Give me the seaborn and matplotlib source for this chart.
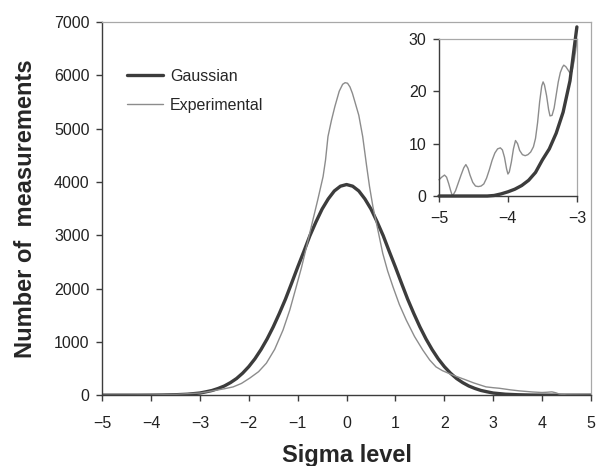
import numpy as np
import pandas as pd
import matplotlib
matplotlib.use("Agg")
import matplotlib.pyplot as plt
import seaborn as sns

## main panel: gaussian fit
gauss_x = [-5, -4.75, -4.5, -4.25, -4, -3.75, -3.5, -3.25, -3, -2.875, -2.75, -2.625,
           -2.5, -2.375, -2.25, -2.125, -2, -1.875, -1.75, -1.625, -1.5, -1.375,
           -1.25, -1.125, -1, -0.875, -0.75, -0.625, -0.5, -0.375, -0.25, -0.125,
           0, 0.125, 0.25, 0.375, 0.5, 0.625, 0.75, 0.875, 1, 1.125, 1.25, 1.375,
           1.5, 1.625, 1.75, 1.875, 2, 2.125, 2.25, 2.375, 2.5, 2.625, 2.75,
           2.875, 3, 3.25, 3.5, 3.75, 4, 4.25, 4.5, 4.75, 5]
gauss_y = [0, 0, 0, 0, 1, 3, 8, 18, 40, 63, 88, 126,
           172, 235, 312, 413, 535, 681, 855, 1054, 1280, 1532,
           1800, 2097, 2400, 2691, 2990, 3251, 3490, 3680, 3830, 3919,
           3950, 3919, 3830, 3680, 3490, 3251, 2990, 2691, 2400, 2097, 1800, 1532,
           1280, 1054, 855, 681, 535, 413, 312, 235, 172, 126, 88,
           63, 40, 18, 8, 3, 1, 0, 0, 0, 0]

## main panel: experimental histogram
exp_x = [-5, -4.5, -4, -3.5, -3, -2.8, -2.66, -2.5, -2.32, -2.15, -1.98, -1.8,
         -1.64, -1.47, -1.3, -1.16, -1.03, -0.92, -0.82, -0.69, -0.59, -0.48,
         -0.43, -0.38, -0.31, -0.24, -0.15, -0.08, -0.03, 0.02, 0.07, 0.12,
         0.16, 0.25, 0.33, 0.41, 0.47, 0.54, 0.64, 0.74, 0.84, 0.95, 1.08,
         1.22, 1.39, 1.56, 1.7, 1.83, 1.96, 2.1, 2.25, 2.4, 2.6, 2.85, 3.0,
         3.12, 3.35, 3.53, 3.8, 4.0, 4.1, 4.2, 4.28, 4.35, 4.5, 5]
exp_y = [0, 0, 3, 15, 40, 70, 94, 120, 155, 220, 320, 440,
         600, 860, 1220, 1600, 2030, 2400, 2780, 3280, 3660, 4100,
         4410, 4850, 5150, 5410, 5700, 5830, 5860, 5850, 5780, 5660,
         5535, 5250, 4850, 4300, 3910, 3530, 3100, 2660, 2330, 2030, 1700,
         1410, 1100, 845, 660, 530, 460, 405, 350, 300, 230, 156, 140,
         130, 100, 81, 60, 50, 55, 62, 45, 20, 5, 0]

## inset: left tail, -5 .. -3 sigma
ins_gx = [-5, -4.6, -4.3, -4.2, -4.1, -4.0, -3.9, -3.8, -3.7, -3.6, -3.5, -3.4,
          -3.3, -3.2, -3.1, -3.0]
ins_gy = [0, 0, 0, 0.1, 0.4, 0.8, 1.3, 2.0, 3.0, 4.5, 6.9, 9.0,
          12.0, 16.0, 22.0, 32.3]
ins_ex = [-5, -4.96, -4.92, -4.89, -4.86, -4.83, -4.81, -4.79, -4.76, -4.72, -4.68,
          -4.64, -4.61, -4.58, -4.55, -4.51, -4.47, -4.43, -4.39, -4.35, -4.31,
          -4.27, -4.23, -4.19, -4.15, -4.11, -4.08, -4.05, -4.02, -4.0, -3.98,
          -3.95, -3.92, -3.89, -3.86, -3.83, -3.79, -3.75, -3.71, -3.67, -3.63,
          -3.6, -3.57, -3.54, -3.51, -3.49, -3.47, -3.44, -3.41, -3.39, -3.36,
          -3.33, -3.3, -3.27, -3.24, -3.21, -3.19, -3.16, -3.13, -3.1, -3.07,
          -3.04, -3.01, -3.0]
ins_ey = [3.1, 3.6, 4.0, 3.6, 2.4, 1.0, 0.2, 0.3, 1.0, 2.5, 4.0,
          5.4, 6.0, 5.3, 4.0, 2.6, 1.9, 1.8, 1.9, 2.3, 3.4,
          5.0, 6.8, 8.2, 9.0, 9.2, 8.8, 7.4, 5.2, 4.2, 4.6,
          6.5, 9.0, 10.6, 10.0, 8.7, 7.9, 7.7, 7.9, 8.4, 9.4,
          11.0, 14.0, 18.0, 21.0, 21.8, 21.2, 19.2, 16.5, 15.3, 15.4,
          16.8, 19.3, 21.8, 23.6, 24.6, 25.0, 24.7, 24.1, 23.5, 23.8,
          25.8, 28.5, 30.0]

dark = "#3c3c3c"
light = "#8c8c8c"
frame = "#a8a8a8"

sns.set_style("ticks")
plt.rcParams["font.family"] = ["Liberation Sans", "DejaVu Sans"]
plt.rcParams["font.size"] = 11.5

fig = plt.figure(figsize=(5.97, 4.66), dpi=100)
ax = fig.add_axes([0.171, 0.152, 0.819, 0.801])

sns.lineplot(x=gauss_x, y=gauss_y, ax=ax, color=dark, lw=2.4, label="Gaussian")
sns.lineplot(x=exp_x, y=exp_y, ax=ax, color=light, lw=1.0, label="Experimental")

ax.set_xlim(-5, 5)
ax.set_ylim(0, 7000)
ax.set_xticks(range(-5, 6))
ax.set_yticks(range(0, 7001, 1000))
ax.set_xticklabels(["\u22125", "\u22124", "\u22123", "\u22122", "\u22121", "0", "1", "2", "3", "4", "5"])
ax.set_xlabel("Sigma level", fontsize=17, fontweight="bold", labelpad=9)
ax.set_ylabel("Number of  measurements", fontsize=17, fontweight="bold", labelpad=12)
ax.tick_params(axis="both", direction="out", length=4, width=1, color=dark, labelsize=11.5, labelcolor="#222222")
ax.tick_params(axis="x", pad=11)
ax.tick_params(axis="y", pad=5)
for s in ["left", "bottom"]:
    ax.spines[s].set_color(dark)
    ax.spines[s].set_linewidth(1.0)
for s in ["top", "right"]:
    ax.spines[s].set_visible(True)
    ax.spines[s].set_color(frame)
    ax.spines[s].set_linewidth(0.9)

ax.legend(loc="upper left", bbox_to_anchor=(0.051, 0.874), frameon=False,
          borderpad=0, borderaxespad=0, handlelength=2.25, handletextpad=0.45,
          labelspacing=0.85, fontsize=11.5)

# inset
ins = fig.add_axes([0.7353, 0.5794, 0.231, 0.337])
sns.lineplot(x=ins_ex, y=ins_ey, ax=ins, color=light, lw=1.0)
sns.lineplot(x=ins_gx, y=ins_gy, ax=ins, color=dark, lw=2.4)
for ln in ins.lines:
    ln.set_clip_on(False)
ins.set_xlim(-5, -3)
ins.set_ylim(0, 30)
ins.set_xticks([-5, -4, -3])
ins.set_xticklabels(["\u22125", "\u22124", "\u22123"])
ins.set_yticks([0, 10, 20, 30])
ins.tick_params(axis="both", direction="out", length=4, width=1, color=dark, labelsize=11.5, labelcolor="#222222")
ins.tick_params(axis="x", pad=7)
ins.tick_params(axis="y", pad=5)
for s in ["left", "bottom"]:
    ins.spines[s].set_color(dark)
    ins.spines[s].set_linewidth(1.0)
for s in ["top", "right"]:
    ins.spines[s].set_visible(True)
    ins.spines[s].set_color(frame)
    ins.spines[s].set_linewidth(0.9)

fig.savefig("out.png", dpi=100)
